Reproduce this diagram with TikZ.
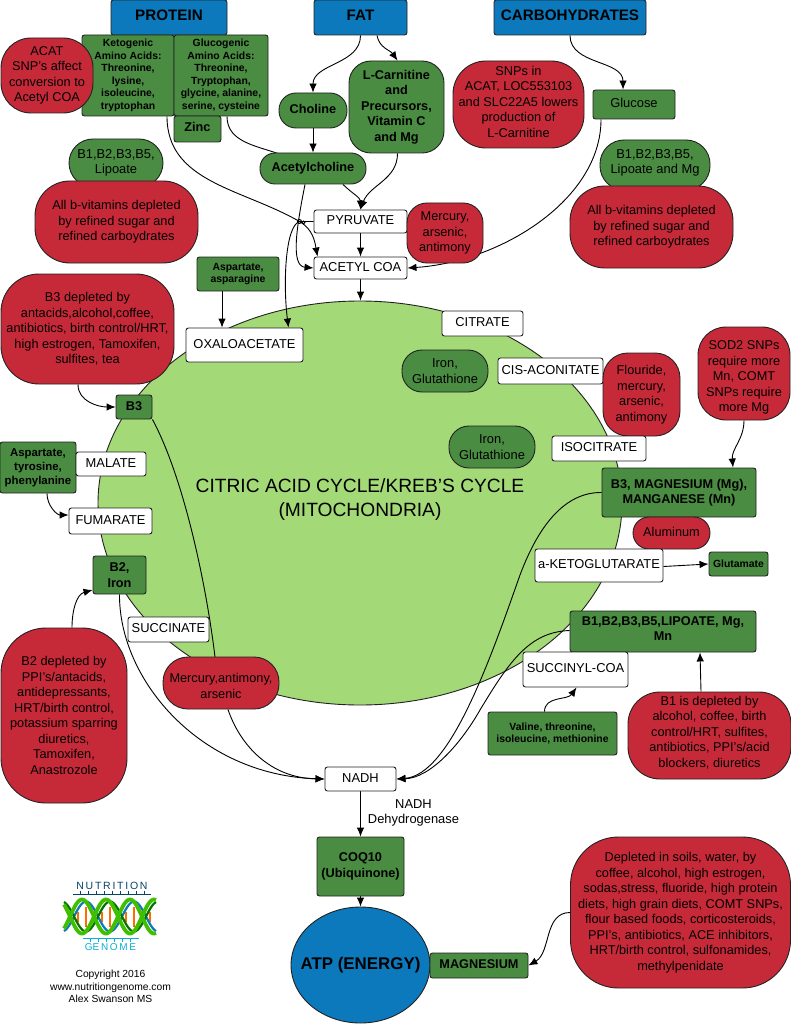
\documentclass[tikz,border=0pt]{standalone}
\usepackage{fontspec}
\setmainfont{Liberation Sans}
\usetikzlibrary{arrows.meta, backgrounds, shapes.geometric}
\definecolor{redfill}{HTML}{C62A39}
\definecolor{greenfill}{HTML}{4A8C42}
\definecolor{bluefill}{HTML}{0B79BB}
\definecolor{cyclefill}{HTML}{A3D977}
\definecolor{edgegray}{HTML}{222222}
\newcommand{\fsz}[2]{\fontsize{#1}{#2}\selectfont}
\pgfdeclarelayer{cyclelayer}
\pgfsetlayers{cyclelayer,background,main}
\tikzset{
  wh/.style 2 args={minimum width=#1,minimum height=#2},
  base/.style={draw=edgegray,line width=0.9pt,align=center,inner sep=0pt,text=black},
  oneline/.style={text height=9pt,text depth=3pt},
  redbox/.style={base,fill=redfill,font=\fsz{12.75}{15.5}},
  greenbox/.style={base,fill=greenfill,rounded corners=2.5pt,font=\fsz{12.7}{15.5}\bfseries},
  greensmall/.style={greenbox,font=\fsz{10.4}{12.5}\bfseries},
  greenpill/.style={base,fill=greenfill,font=\fsz{12.9}{15.5}},
  whitebox/.style={base,fill=white,rounded corners=2.5pt,font=\fsz{12.9}{15.5},oneline},
  bluebox/.style={base,fill=bluefill,rounded corners=2.5pt,font=\fsz{15.2}{18}\bfseries,text height=11pt,text depth=4pt},
  conn/.style={line width=0.9pt,draw=black}
}
\begin{document}
\begin{tikzpicture}[x=1pt,y=-1pt,>={Latex[length=9pt,width=7.5pt]}]
  \useasboundingbox (0,0) rectangle (791,1024);
  % cycle
  \begin{pgfonlayer}{cyclelayer}
    \node[base,ellipse,fill=cyclefill,wh={524}{404}] (cycle) at (360,503) {};
  \end{pgfonlayer}
  \node[font=\fsz{19.2}{24},align=center] (cycletext) at (360,500) {CITRIC ACID CYCLE/KREB'S CYCLE\\(MITOCHONDRIA)};

  % top row
  \node[bluebox,wh={116}{35}] (protein) at (169,17.5) {PROTEIN};
  \node[bluebox,wh={93}{35}] (fat) at (360.5,17.5) {FAT};
  \node[bluebox,wh={152}{35}] (carbs) at (570,17.5) {CARBOHYDRATES};
  \node[greensmall,wh={92}{81}] (keto) at (128,75.5) {Ketogenic\\Amino Acids:\\Threonine,\\lysine,\\isoleucine,\\tryptophan};
  \node[greensmall,wh={94}{81}] (gluco) at (221,75.5) {Glucogenic\\Amino Acids:\\Threonine,\\Tryptophan,\\glycine, alanine,\\serine, cysteine};
  \node[redbox,rounded corners=30pt,wh={92}{75},text depth=3pt] (acat) at (47,75.5) {ACAT\\SNP's affect\\conversion to\\Acetyl COA};
  \node[greenbox,oneline,wh={47}{26}] (zinc) at (197.5,129) {Zinc};
  \node[greenbox,oneline,rounded corners=17pt,wh={68}{35}] (choline) at (313,110.5) {Choline};
  \node[greenbox,oneline,rounded corners=15pt,wh={106}{31}] (acetylcholine) at (313,168.5) {Acetylcholine};
  \node[greenbox,rounded corners=22pt,wh={95}{92}] (carnitine) at (396.5,107) {L-Carnitine\\and\\Precursors,\\Vitamin C\\and Mg};
  \node[redbox,rounded corners=33pt,wh={131}{87},text depth=6pt] (snps) at (518.5,104.5) {SNPs in\\ACAT, LOC553103\\and SLC22A5 lowers\\production of\\L-Carnitine};
  \node[greenbox,oneline,font=\fsz{12.9}{15.5},wh={82}{29}] (glucose) at (634,104.5) {Glucose};

  % vitamins
  \node[greenpill,rounded corners=24pt,wh={94}{48}] (vitleft) at (116,163) {B1,B2,B3,B5,\\Lipoate};
  \node[redbox,rounded corners=35pt,wh={163}{82}] (sugarleft) at (116.5,222) {All b-vitamins depleted\\by refined sugar and\\refined carboydrates};
  \node[greenpill,rounded corners=24pt,wh={110}{50},text depth=6.7pt] (vitright) at (655,165) {B1,B2,B3,B5,\\Lipoate and Mg};
  \node[redbox,rounded corners=35pt,wh={163}{82}] (sugarright) at (651.5,227) {All b-vitamins depleted\\by refined sugar and\\refined carboydrates};
  \node[whitebox,wh={93}{23}] (pyruvate) at (360.5,221.5) {PYRUVATE};
  \node[whitebox,wh={93}{22}] (acetyl) at (360.5,268) {ACETYL COA};
  \node[redbox,rounded corners=20pt,wh={76}{60}] (mercurytop) at (445,233) {Mercury,\\arsenic,\\antimony};
  \node[greensmall,wh={82}{34}] (asparagine) at (238,274) {Aspartate,\\asparagine};
  \node[redbox,rounded corners=38pt,wh={173}{110}] (bthreered) at (87.5,329) {B3 depleted by\\antacids,alcohol,coffee,\\antibiotics, birth control/HRT,\\high estrogen, Tamoxifen,\\sulfites, tea};
  \node[whitebox,wh={117}{34}] (oxalo) at (244.5,345) {OXALOACETATE};

  % right side of cycle
  \node[whitebox,wh={81}{25}] (citrate) at (482.5,323.5) {CITRATE};
  \node[greenpill,rounded corners=20pt,wh={86}{42}] (ironone) at (445,371) {Iron,\\Glutathione};
  \node[greenpill,rounded corners=20pt,wh={86}{42}] (irontwo) at (492,447) {Iron,\\Glutathione};
  \node[whitebox,wh={105}{26}] (cisaconitate) at (550.5,371) {CIS-ACONITATE};
  \node[redbox,rounded corners=25pt,wh={77}{83}] (flouride) at (641.5,394.5) {Flouride,\\mercury,\\arsenic,\\antimony};
  \node[redbox,rounded corners=28pt,wh={92}{93},text height=79pt] (sod) at (744,373.5) {SOD2 SNPs\\require more\\Mn, COMT\\SNPs require\\more Mg};
  \node[whitebox,wh={94}{25}] (isocitrate) at (599,448.5) {ISOCITRATE};
  \node[greenbox,wh={154}{49}] (bthreemg) at (679,492.5) {B3, MAGNESIUM (Mg),\\MANGANESE (Mn)};
  \node[redbox,oneline,rounded corners=16pt,wh={77}{32}] (aluminum) at (671.5,533) {Aluminum};
  \node[whitebox,wh={128}{33}] (ketoglut) at (599,565.5) {a-KETOGLUTARATE};
  \node[greensmall,wh={59}{24}] (glutamate) at (738.5,564) {Glutamate};
  \node[greenbox,wh={186}{41},text depth=6pt] (bvitmn) at (663,631.5) {B1,B2,B3,B5,LIPOATE, Mg,\\Mn};
  \node[whitebox,wh={105}{35}] (succinyl) at (575.5,669.5) {SUCCINYL-COA};
  \node[greensmall,wh={129}{43}] (valine) at (552.5,733.5) {Valine, threonine,\\isoleucine, methionine};
  \node[redbox,rounded corners=32pt,wh={163}{87},text depth=8pt] (bonered) at (709.5,735.5) {B1 is depleted by\\alcohol, coffee, birth\\control/HRT, sulfites,\\antibiotics, PPI's/acid\\blockers, diuretics};

  % left side of cycle
  \node[greenbox,oneline,wh={36}{24}] (bthree) at (134,407) {B3};
  \node[greenbox,font=\fsz{11.4}{14}\bfseries,wh={76}{51}] (tyrosine) at (38,467.5) {Aspartate,\\tyrosine,\\phenylanine};
  \node[whitebox,wh={70}{24}] (malate) at (111,464) {MALATE};
  \node[whitebox,wh={83}{26}] (fumarate) at (110.5,521) {FUMARATE};
  \node[greenbox,wh={53}{38}] (btwo) at (119.5,575) {B2,\\Iron};
  \node[whitebox,wh={81}{25}] (succinate) at (168.5,629.5) {SUCCINATE};
  \node[redbox,rounded corners=25pt,wh={116}{52},text height=31pt] (mercurylow) at (221,683) {Mercury,antimony,\\arsenic};
  \node[redbox,rounded corners=45pt,wh={126}{175}] (btwored) at (64,715.5) {B2 depleted by\\PPI's/antacids,\\antidepressants,\\HRT/birth control,\\potassium sparring\\diuretics,\\Tamoxifen,\\Anastrozole};

  % bottom
  \node[whitebox,wh={71}{24}] (nadh) at (360.5,779) {NADH};
  \node[font=\fsz{12.9}{15.5},align=center] (dehydro) at (413.5,813) {NADH\\Dehydrogenase};
  \node[greenbox,wh={87}{59}] (coq) at (360.5,866.5) {COQ10\\(Ubiquinone)};
  \node[base,ellipse,fill=bluefill,wh={139}{116},label={[font=\fsz{16.9}{20}\bfseries]center:ATP (ENERGY)}] (atp) at (360.5,965) {};
  \node[greenbox,oneline,wh={98}{25}] (magnesium) at (479,965.5) {MAGNESIUM};
  \node[redbox,rounded corners=48pt,wh={220}{151}] (depleted) at (680.5,912.5) {Depleted in soils, water, by\\coffee, alcohol, high estrogen,\\sodas,stress, fluoride, high protein\\diets, high grain diets, COMT SNPs,\\flour based foods, corticosteroids,\\PPI's, antibiotics, ACE inhibitors,\\HRT/birth control, sulfonamides,\\methylpenidate};

  % logo
  \node[font=\fsz{10.5}{12},text=bluefill!55!black] (nutri) at (112,886) {N\,U\,T\,R\,I\,T\,I\,O\,N};
  \node[font=\fsz{10}{12},text=bluefill!60!cyan] (genome) at (110.5,947) {GE\,N\,O\,M\,E};
  \draw[bluefill!55!black,line width=0.8pt] (73,894) -- (151,894);
  \foreach \x in {80,88,...,146} \draw[bluefill!55!black,line width=0.5pt] (\x,890.5) -- (\x,894);
  \draw[bluefill!60!cyan,line width=0.8pt] (83,938) -- (139,938);
  \foreach \x in {90,98,...,134} \draw[bluefill!60!cyan,line width=0.5pt] (\x,938) -- (\x,942);
  \foreach \x in {70,78,...,154} \draw[orange!85!red,line width=1.6pt] (\x,{916.5-10*cos(7.5*(\x-62))}) -- (\x,{916.5+10*cos(7.5*(\x-62))});
  \draw[bluefill,line width=2.2pt,domain=64:156,samples=70] plot (\x,{916.5+15*cos(7.5*(\x-62))});
  \draw[green!45!black,line width=2.2pt,domain=64:156,samples=70] plot (\x,{916.5-15*cos(7.5*(\x-62))});
  \draw[green!50!olive,line width=3.8pt,domain=64:156,samples=70] plot (\x,{916.5+17*sin(7.5*(\x-70))});
  \draw[green!50!olive,line width=3.8pt,domain=64:156,samples=70] plot (\x,{916.5-17*sin(7.5*(\x-70))});
  \node[font=\fsz{10.3}{12.5},align=center] (copyright) at (110.5,986.5) {Copyright 2016\\www.nutritiongenome.com\\Alex Swanson MS};

  % connectors
  \begin{pgfonlayer}{background}
    \coordinate (hop) at (299.5,221.5);
    \draw[conn,->] (fat.south) to[out=-90,in=90] (choline.north);
    \draw[conn,->] ([xshift=16.5pt]fat.south) to[out=-80,in=125] ([xshift=1pt]carnitine.north);
    \draw[conn,->] (carbs.south) to[out=-90,in=90] ([xshift=-11pt]glucose.north);
    \draw[conn,->] (choline) -- (acetylcholine);
    \draw[conn] ([xshift=39pt]keto.south) to[out=-90,in=150] (hop);
    \draw[conn,->] (hop) to[out=-30,in=100] ([xshift=-43pt]acetyl.north);
    \draw[conn] ([xshift=6pt]gluco.south) to[out=-90,in=160] ([xshift=-32pt,yshift=-2pt]acetylcholine.north);
    \draw[conn,->] ([xshift=30pt]acetylcholine.south) to[out=-45,in=90] (pyruvate.north);
    \draw[conn,->] ([xshift=1pt]carnitine.south) to[out=-90,in=70] (pyruvate.north);
    \draw[conn,->] ([xshift=-8pt]acetylcholine.south) .. controls (297,225) and (290,266) .. (acetyl.west);
    \draw[conn,->] (pyruvate.west) -- (hop) .. controls (285,226) and (283,285) .. ([xshift=44pt]oxalo.north);
    \draw[conn] (hop) circle (2pt);
    \draw[conn] ([xshift=4pt,yshift=-1pt]hop) circle (1.6pt);
    \draw[conn,->] (pyruvate) -- (acetyl);
    \draw[conn,->] (acetyl) -- (acetyl |- cycle.north);
    \draw[conn,->] ([xshift=-33pt]glucose.south) .. controls (601,200) and (500,262) .. (acetyl.east);
    \draw[conn,->] ([xshift=-16pt]asparagine.south) -- ([xshift=-22.5pt]oxalo.north);
    \draw[conn,->] ([xshift=-9.5pt]bthreered.south) to[out=-90,in=180] (bthree.west);
    \draw[conn] (bthree.south east) .. controls (185,480) and (207,590) .. (215,657);
    \draw[conn,->] (mercurylow.south) ++(7,0) .. controls (240,745) and (270,778) .. (nadh.west);
    \draw[conn] (mercurylow.north) ++(-6,0) -- (215,657);
    \draw[conn,->] ([xshift=9pt]tyrosine.south) to[out=-90,in=180] ([yshift=6pt]fumarate.west);
    \draw[conn,->] ([xshift=8pt]btwored.north) to[out=90,in=195] ([yshift=-15pt]btwo.west);
    \draw[conn,->] (btwo.south) .. controls (119,680) and (200,775) .. (nadh.west);
    \draw[conn,->] (bthreemg.west) .. controls (560,492) and (535,535) .. (520,575) .. controls (490,660) and (450,775) .. (nadh.east);
    \draw[conn,->] ([yshift=1pt]bvitmn.west) .. controls (530,632) and (510,660) .. (480,710) .. controls (460,745) and (430,778) .. (nadh.east);
    \draw[conn,->] ([xshift=-8pt]valine.north) to[out=90,in=-125] ([xshift=1pt]succinyl.south);
    \draw[conn,->] ([xshift=-8.5pt]bonered.north) -- ([xshift=37pt]bvitmn.south);
    \draw[conn,->] (sod.south) to[out=-90,in=95] ([xshift=54pt]bthreemg.north);
    \draw[conn,->] ([yshift=-1pt]ketoglut.east) -- (glutamate.west);
    \draw[conn,->] (nadh) -- (coq);
    \draw[conn,->] (coq) -- (atp);
    \draw[conn,->] (depleted.west) to[out=180,in=30] (magnesium.east);
  \end{pgfonlayer}
\end{tikzpicture}
\end{document}
